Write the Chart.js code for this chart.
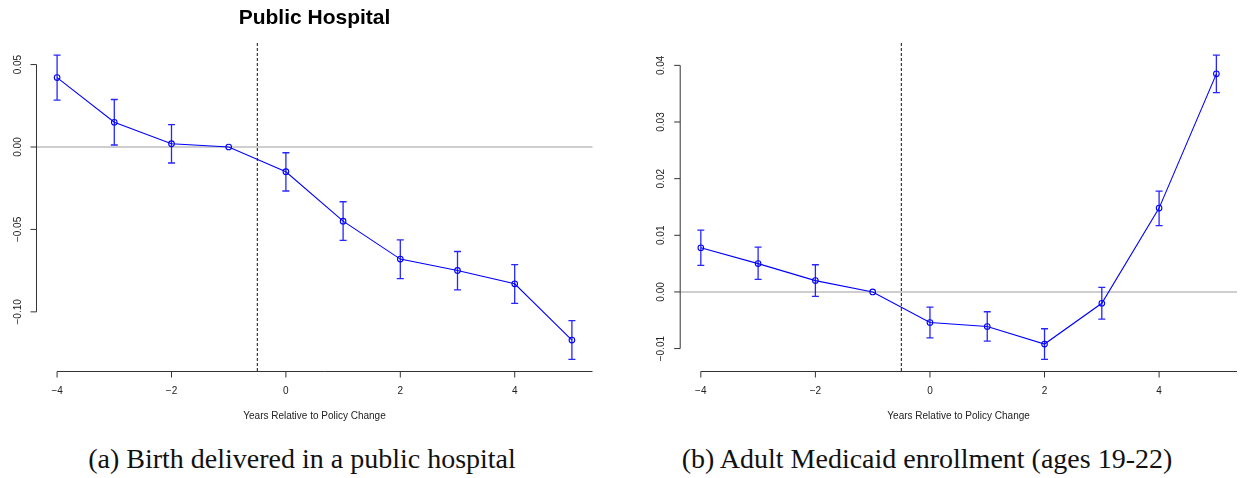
<!DOCTYPE html>
<html>
<head>
<meta charset="utf-8">
<script src="https://cdn.jsdelivr.net/npm/chart.js@4.4.1/dist/chart.umd.min.js"></script>
<style>
  html, body { margin: 0; padding: 0; background: #fff; }
  #wrap { position: relative; width: 1241px; height: 478px; overflow: hidden; }
  canvas { position: absolute; top: 0; }
  #c-hosp { left: 0; }
  #c-med { left: 620px; }
  .caption {
    position: absolute; top: 442px; width: 620px; margin-left: -310px;
    text-align: center; white-space: nowrap;
    font-family: 'Liberation Serif', 'DejaVu Serif', serif;
    font-size: 28px; line-height: 33px; color: #111;
  }
</style>
</head>
<body>
<div id="wrap">
  <canvas id="c-hosp" width="620" height="430"></canvas>
  <canvas id="c-med" width="621" height="430"></canvas>
  <div class="caption" style="left:302px">(a) Birth delivered in a public hospital</div>
  <div class="caption" style="left:927px">(b) Adult Medicaid enrollment (ages 19-22)</div>
</div>
<script>
/* event-study estimates */
const years = [-4, -3, -2, -1, 0, 1, 2, 3, 4, 5];

const hospEst  = [0.0421, 0.0150, 0.0020, 0, -0.0150, -0.0450, -0.0680, -0.0749, -0.0830, -0.1171];
const hospLow  = [0.0284, 0.0012, -0.0097, null, -0.0267, -0.0567, -0.0798, -0.0867, -0.0948, -0.1288];
const hospHigh = [0.0557, 0.0288, 0.0136, null, -0.0035, -0.0332, -0.0563, -0.0634, -0.0713, -0.1053];

const medEst  = [0.0078, 0.0050, 0.0020, 0, -0.0054, -0.0061, -0.0092, -0.0020, 0.0148, 0.0385];
const medLow  = [0.0047, 0.0022, -0.0008, null, -0.0081, -0.0087, -0.0119, -0.0048, 0.0117, 0.0352];
const medHigh = [0.0109, 0.0079, 0.0048, null, -0.0027, -0.0035, -0.0065, 0.0008, 0.0178, 0.0418];

const xTicks  = [-4, -2, 0, 2, 4];
const xLabels = ['\u22124', '\u22122', '0', '2', '4'];
const hospYTicks  = [-0.10, -0.05, 0, 0.05];
const hospYLabels = ['\u22120.10', '\u22120.05', '0.00', '0.05'];
const medYTicks  = [-0.01, 0, 0.01, 0.02, 0.03, 0.04];
const medYLabels = ['\u22120.01', '0.00', '0.01', '0.02', '0.03', '0.04'];

const xTitle = 'Years Relative to Policy Change';
const policyBreak = -0.5;

const BLUE = '#0000ff';
const INK  = '#222';
const SANS = "'Liberation Sans', Arial, Helvetica, sans-serif";

// R-ish axis range: data range widened by 4% each side
function rRange(lo, hi) {
  const pad = (hi - lo) * 0.04;
  return [lo - pad, hi + pad];
}

// base-graphics look: reference lines, error bars, axes
const rStyle = {
  id: 'rStyle',
  beforeDatasetsDraw(chart, args, o) {
    const { ctx, chartArea: a, scales: { x, y } } = chart;
    ctx.save();
    // zero line
    ctx.strokeStyle = '#bebebe';
    ctx.lineWidth = 1.5;
    ctx.beginPath();
    ctx.moveTo(a.left, y.getPixelForValue(0));
    ctx.lineTo(a.right, y.getPixelForValue(0));
    ctx.stroke();
    // policy change
    const px = x.getPixelForValue(policyBreak);
    ctx.strokeStyle = '#111';
    ctx.lineWidth = 1;
    ctx.setLineDash([3, 2]);
    ctx.beginPath();
    ctx.moveTo(px, a.top);
    ctx.lineTo(px, a.bottom);
    ctx.stroke();
    ctx.restore();
  },
  afterDatasetsDraw(chart, args, o) {
    const { ctx, scales: { x, y } } = chart;
    ctx.save();
    ctx.strokeStyle = 'rgba(0,0,255,0.85)';
    ctx.lineWidth = 1.3;
    years.forEach((yr, i) => {
      if (o.low[i] == null) return;
      const px = x.getPixelForValue(yr);
      const y1 = y.getPixelForValue(o.low[i]);
      const y2 = y.getPixelForValue(o.high[i]);
      ctx.beginPath();
      ctx.moveTo(px, y1); ctx.lineTo(px, y2);
      ctx.moveTo(px - 3.5, y1); ctx.lineTo(px + 3.5, y1);
      ctx.moveTo(px - 3.5, y2); ctx.lineTo(px + 3.5, y2);
      ctx.stroke();
    });
    ctx.restore();
  },
  afterDraw(chart, args, o) {
    const { ctx, chartArea: a, scales: { x, y } } = chart;
    ctx.save();
    ctx.strokeStyle = '#333';
    ctx.fillStyle = INK;
    ctx.lineWidth = 1;
    ctx.font = '10px ' + SANS;

    // x axis
    const ax = a.bottom;
    ctx.beginPath();
    ctx.moveTo(x.getPixelForValue(xTicks[0]), ax);
    ctx.lineTo(a.right, ax);
    xTicks.forEach(t => {
      const px = x.getPixelForValue(t);
      ctx.moveTo(px, ax); ctx.lineTo(px, ax + 6);
    });
    ctx.stroke();
    ctx.textAlign = 'center';
    ctx.textBaseline = 'middle';
    xTicks.forEach((t, i) => ctx.fillText(xLabels[i], x.getPixelForValue(t), ax + 19.5));
    ctx.fillText(xTitle, (a.left + a.right) / 2, ax + 45);

    // y axis, labels turned like R's las=0
    const ay = a.left;
    ctx.beginPath();
    ctx.moveTo(ay, y.getPixelForValue(o.yTicks[0]));
    ctx.lineTo(ay, y.getPixelForValue(o.yTicks[o.yTicks.length - 1]));
    o.yTicks.forEach(t => {
      const py = y.getPixelForValue(t);
      ctx.moveTo(ay, py); ctx.lineTo(ay - 6, py);
    });
    ctx.stroke();
    o.yTicks.forEach((t, i) => {
      ctx.save();
      ctx.translate(ay - 18.5, y.getPixelForValue(t));
      ctx.rotate(-Math.PI / 2);
      ctx.fillText(o.yLabels[i], 0, 0);
      ctx.restore();
    });

    if (o.title) {
      ctx.font = 'bold 21px ' + SANS;
      ctx.fillStyle = '#000';
      ctx.fillText(o.title, (a.left + a.right) / 2, 18);
    }
    ctx.restore();
  }
};

function makePanel(id, est, low, high, yTicks, yLabels, title, pad) {
  const [xMin, xMax] = rRange(years[0], years[years.length - 1]);
  const [yMin, yMax] = rRange(Math.min(...low.filter(v => v != null)),
                              Math.max(...high.filter(v => v != null)));
  return new Chart(document.getElementById(id), {
    type: 'line',
    data: {
      datasets: [{
        data: years.map((yr, i) => ({ x: yr, y: est[i] })),
        borderColor: BLUE,
        borderWidth: 1.1,
        tension: 0,
        pointRadius: 2.8,
        pointBorderWidth: 1.1,
        pointBorderColor: BLUE,
        pointBackgroundColor: 'rgba(255,255,255,0)',
        fill: false
      }]
    },
    options: {
      responsive: false,
      animation: false,
      events: [],
      layout: { autoPadding: false, padding: pad },
      scales: {
        x: { type: 'linear', min: xMin, max: xMax, display: false },
        y: { type: 'linear', min: yMin, max: yMax, display: false }
      },
      plugins: {
        legend: { display: false },
        tooltip: { enabled: false },
        rStyle: { low, high, yTicks, yLabels, title }
      }
    },
    plugins: [rStyle]
  });
}

makePanel('c-hosp', hospEst, hospLow, hospHigh, hospYTicks, hospYLabels, 'Public Hospital',
  { left: 36.5, right: 27.5, top: 43, bottom: 58.5 });
makePanel('c-med', medEst, medLow, medHigh, medYTicks, medYLabels, null,
  { left: 60.2, right: 4, top: 43, bottom: 58.5 });
</script>
</body>
</html>
